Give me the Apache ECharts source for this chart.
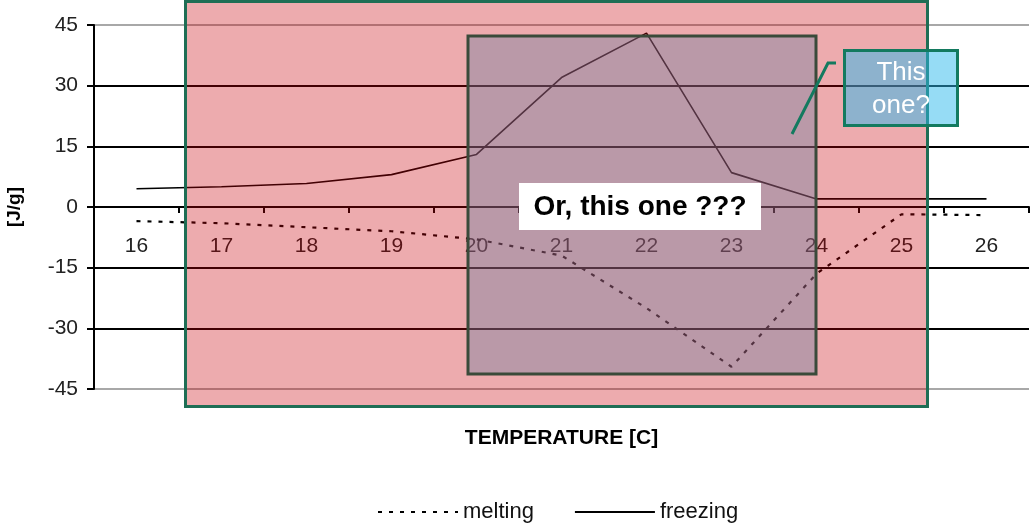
<!DOCTYPE html>
<html>
<head>
<meta charset="utf-8">
<script src="https://cdn.jsdelivr.net/npm/echarts@6/dist/echarts.min.js"></script>
<style>
html,body{margin:0;padding:0;background:#fff;}
#chart{width:1030px;height:525px;}
</style>
</head>
<body>
<div id="chart"></div>
<script>
const temperatures = ['16','17','18','19','20','21','22','23','24','25','26'];
const melting  = [-3.5, -4, -5, -6, -8, -12, -25, -39.5, -16.5, -1.8, -2];
const freezing = [4.5, 5, 5.8, 8, 13, 32, 43, 8.5, 2, 2, 2];
const yTicks = { min: -45, max: 45, interval: 15 };

const FONT = '"Liberation Sans", Arial, sans-serif';
const chart = echarts.init(document.getElementById('chart'));

chart.setOption({
  animation: false,
  backgroundColor: '#fff',
  grid: { left: 94, right: 1, top: 25, bottom: 136, containLabel: false, outerBoundsMode: 'none' },
  legend: {
    bottom: -3,
    left: 372,
    itemWidth: 80,
    itemHeight: 12,
    itemGap: 40,
    itemStyle: { opacity: 0 },
    textStyle: { fontFamily: FONT, fontSize: 22, color: '#111' },
    data: ['melting', 'freezing']
  },
  xAxis: {
    type: 'category',
    data: temperatures,
    boundaryGap: true,
    position: 'bottom',
    offset: -182,
    name: 'TEMPERATURE [C]',
    nameLocation: 'middle',
    nameGap: 221,
    nameTextStyle: { fontFamily: FONT, fontSize: 21, fontWeight: 'bold', color: '#000' },
    axisLine: { onZero: false, lineStyle: { color: '#000', width: 2 } },
    axisTick: { show: true, length: 6, lineStyle: { color: '#000', width: 2 } },
    axisLabel: { margin: 29, fontFamily: FONT, fontSize: 21, color: '#222' },
    splitLine: { show: false }
  },
  yAxis: {
    type: 'value',
    min: yTicks.min,
    max: yTicks.max,
    interval: yTicks.interval,
    name: '[J/g]',
    nameLocation: 'middle',
    nameGap: 70,
    nameRotate: 90,
    nameTextStyle: { fontFamily: FONT, fontSize: 19, fontWeight: 'bold', color: '#000' },
    axisLine: { show: true, lineStyle: { color: '#000', width: 2 } },
    axisTick: { show: true, length: 7, lineStyle: { color: '#000', width: 2 } },
    axisLabel: { margin: 16, fontFamily: FONT, fontSize: 21, color: '#222' },
    splitLine: { show: true, lineStyle: { color: ['#a8a8a8', '#000', '#000', '#000', '#000', '#000', '#a8a8a8'], width: 2 } }
  },
  series: [
    {
      name: 'melting',
      type: 'line',
      data: melting,
      symbol: 'none',
      lineStyle: { color: '#000', width: 2.2, type: [4, 7] },
      itemStyle: { color: '#000' },
      z: 3
    },
    {
      name: 'freezing',
      type: 'line',
      data: freezing,
      symbol: 'none',
      lineStyle: { color: '#000', width: 1.6, type: 'solid' },
      itemStyle: { color: '#000' },
      z: 3
    }
  ],
  graphic: [
    {
      type: 'rect', z: 100,
      shape: { x: 185.5, y: 1.5, width: 742, height: 405 },
      style: { fill: 'rgba(200,0,10,0.33)', stroke: '#1e6e55', lineWidth: 3 }
    },
    {
      type: 'rect', z: 101,
      shape: { x: 468, y: 36, width: 348, height: 338 },
      style: { fill: 'rgba(110,128,159,0.4)', stroke: '#3a4a3a', lineWidth: 3 }
    },
    {
      type: 'rect', z: 102,
      shape: { x: 519, y: 183, width: 242, height: 47 },
      style: { fill: '#fff' }
    },
    {
      type: 'text', z: 103,
      x: 640, y: 207,
      style: { text: 'Or, this one ???', fontFamily: FONT, fontSize: 28, fontWeight: 'bold', fill: '#000', align: 'center', verticalAlign: 'middle' }
    },
    {
      type: 'polyline', z: 104,
      shape: { points: [[792, 134], [828, 63], [836, 63]] },
      style: { stroke: '#137a5f', lineWidth: 3, fill: null }
    },
    {
      type: 'rect', z: 104,
      shape: { x: 844.5, y: 50.5, width: 113, height: 75 },
      style: { fill: 'rgba(45,185,235,0.5)', stroke: '#137a5f', lineWidth: 3 }
    },
    {
      type: 'text', z: 105,
      x: 901, y: 89,
      style: { text: 'This\none?', fontFamily: FONT, fontSize: 26, lineHeight: 33, fill: '#fff', align: 'center', verticalAlign: 'middle' }
    }
  ]
});
</script>
</body>
</html>
